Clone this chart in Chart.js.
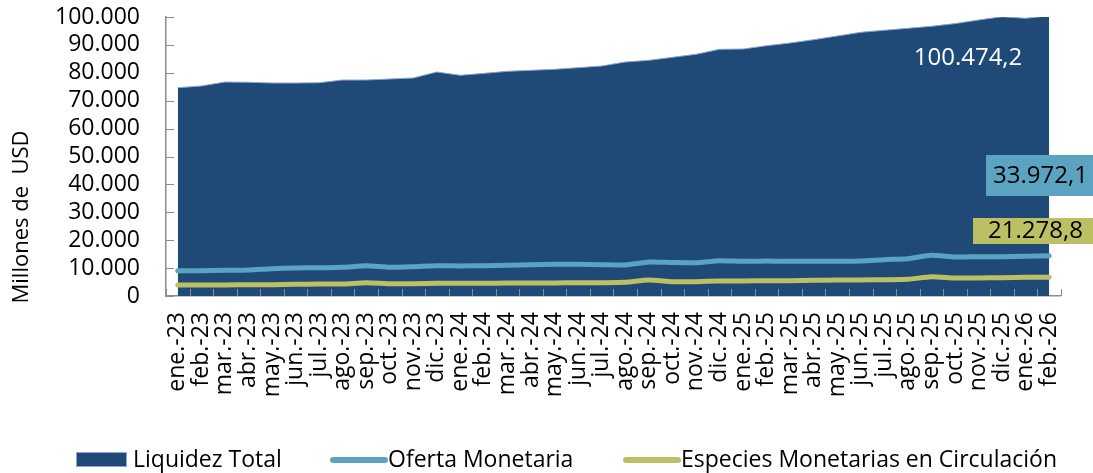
<!DOCTYPE html>
<html>
<head>
<meta charset="utf-8">
<script src="https://cdn.jsdelivr.net/npm/chart.js@4.4.1/dist/chart.umd.min.js"></script>
<style>
  html, body { margin: 0; padding: 0; background: #fff; }
  #wrap { position: relative; width: 1093px; height: 473px; }
</style>
</head>
<body>
<div id="wrap"><canvas id="chart" width="1093" height="473"></canvas></div>
<script>
const months = [
  'ene.-23', 'feb.-23', 'mar.-23', 'abr.-23', 'may.-23', 'jun.-23', 'jul.-23', 'ago.-23', 'sep.-23', 'oct.-23', 'nov.-23', 'dic.-23',
  'ene.-24', 'feb.-24', 'mar.-24', 'abr.-24', 'may.-24', 'jun.-24', 'jul.-24', 'ago.-24', 'sep.-24', 'oct.-24', 'nov.-24', 'dic.-24',
  'ene.-25', 'feb.-25', 'mar.-25', 'abr.-25', 'may.-25', 'jun.-25', 'jul.-25', 'ago.-25', 'sep.-25', 'oct.-25', 'nov.-25', 'dic.-25',
  'ene.-26', 'feb.-26'
];

const liquidezTotal = [
  74660, 75270, 76700, 76600, 76340, 76340, 76450, 77420, 77420, 77780, 78140, 80290,
  79100, 79800, 80530, 80890, 81250, 81840, 82440, 83870, 84470, 85550, 86630, 88420,
  88530, 89720, 90680, 91870, 93190, 94520, 95230, 95950, 96670, 97630, 98920, 100110,
  99530, 100474.2
];

const ofertaMonetaria = [
  9080, 9080, 9200, 9320, 9800, 10040, 10150, 10270, 10870, 10270, 10510, 10870,
  10750, 10870, 10990, 11230, 11350, 11350, 11230, 11110, 12190, 12000, 11910, 12670,
  12430, 12550, 12430, 12430, 12430, 12550, 13030, 13380, 14570, 14000, 14100, 14100,
  14220, 14460
];

const especiesMonetarias = [
  3940, 3940, 3940, 4060, 4060, 4180, 4300, 4300, 4780, 4420, 4420, 4540,
  4540, 4540, 4660, 4660, 4660, 4780, 4780, 4900, 5730, 5140, 5140, 5380,
  5380, 5500, 5500, 5610, 5730, 5730, 5850, 5970, 6930, 6450, 6450, 6570,
  6690, 6690
];

const yTicks = [0, 10000, 20000, 30000, 40000, 50000, 60000, 70000, 80000, 90000, 100000];
const endLabels = ['100.474,2', '33.972,1', '21.278,8'];
const seriesNames = ['Liquidez Total', 'Oferta Monetaria', 'Especies Monetarias en Circulación'];

const COL_AREA = '#1F4A78';
const COL_AREA_EDGE = '#8EA6D2';
const COL_OFERTA = '#5BA3C1';
const COL_ESPECIES = '#BDBF63';
const COL_AXIS = '#8C8C8C';
const FONT = '"Open Sans", "Noto Sans", sans-serif';

function fmt(v) {
  return String(v).replace(/\B(?=(\d{3})+(?!\d))/g, '.');
}

// inner tick marks like the spreadsheet original
const innerTicks = {
  id: 'innerTicks',
  afterDatasetsDraw(chart) {
    const { ctx, scales: { x, y } } = chart;
    ctx.save();
    ctx.strokeStyle = COL_AXIS;
    ctx.lineWidth = 1;
    const n = months.length;
    const step = x.getPixelForValue(1) - x.getPixelForValue(0);
    for (let i = 0; i <= n; i++) {
      const px = Math.round(x.getPixelForValue(0) - step / 2 + i * step) + 0.5;
      ctx.beginPath();
      ctx.moveTo(px, y.bottom);
      ctx.lineTo(px, y.bottom - 7);
      ctx.stroke();
    }
    yTicks.forEach(v => {
      const py = Math.round(y.getPixelForValue(v)) + 0.5;
      ctx.beginPath();
      ctx.moveTo(x.left, py);
      ctx.lineTo(x.left + 8, py);
      ctx.stroke();
    });
    ctx.restore();
  }
};

const annotations = {
  id: 'annotations',
  afterDraw(chart) {
    const { ctx } = chart;
    ctx.save();
    // y axis title
    ctx.translate(22, 217);
    ctx.rotate(-Math.PI / 2);
    ctx.font = '22px ' + FONT;
    ctx.fillStyle = '#000';
    ctx.textAlign = 'center';
    ctx.textBaseline = 'middle';
    ctx.fillText('Millones de  USD', 0, 0);
    ctx.restore();

    ctx.save();
    ctx.font = '24px ' + FONT;
    ctx.textBaseline = 'middle';
    ctx.textAlign = 'center';
    ctx.fillStyle = '#fff';
    ctx.fillText(endLabels[0], 968, 58);

    ctx.fillStyle = COL_OFERTA;
    ctx.fillRect(986, 155, 107, 41);
    ctx.fillStyle = '#000';
    ctx.textAlign = 'left';
    ctx.fillText(endLabels[1], 993, 176);

    ctx.fillStyle = COL_ESPECIES;
    ctx.fillRect(973, 218, 120, 26);
    ctx.fillStyle = '#000';
    ctx.fillText(endLabels[2], 988, 231);
    ctx.restore();

    // legend
    ctx.save();
    const ly = 460;
    ctx.font = '23px ' + FONT;
    ctx.textBaseline = 'middle';
    ctx.textAlign = 'left';
    ctx.fillStyle = COL_AREA;
    ctx.fillRect(76, 452, 51, 15);
    ctx.strokeStyle = COL_AREA_EDGE;
    ctx.lineWidth = 1;
    ctx.strokeRect(76.5, 452.5, 50, 14);
    ctx.fillStyle = '#000';
    ctx.fillText(seriesNames[0], 133, ly);

    ctx.lineCap = 'round';
    ctx.lineWidth = 6;
    ctx.strokeStyle = COL_OFERTA;
    ctx.beginPath(); ctx.moveTo(333, ly); ctx.lineTo(385, ly); ctx.stroke();
    ctx.fillText(seriesNames[1], 388, ly);

    ctx.strokeStyle = COL_ESPECIES;
    ctx.beginPath(); ctx.moveTo(626, ly); ctx.lineTo(678, ly); ctx.stroke();
    ctx.fillText(seriesNames[2], 681, ly);
    ctx.restore();
  }
};

new Chart(document.getElementById('chart').getContext('2d'), {
  type: 'line',
  data: {
    labels: months,
    datasets: [
      {
        label: seriesNames[0],
        data: liquidezTotal,
        fill: 'origin',
        backgroundColor: COL_AREA,
        borderColor: COL_AREA_EDGE,
        borderWidth: 1,
        pointRadius: 0,
        tension: 0,
        order: 3
      },
      {
        label: seriesNames[1],
        data: ofertaMonetaria,
        fill: false,
        borderColor: COL_OFERTA,
        borderWidth: 5,
        borderCapStyle: 'round',
        borderJoinStyle: 'round',
        pointRadius: 0,
        tension: 0.2,
        order: 2
      },
      {
        label: seriesNames[2],
        data: especiesMonetarias,
        fill: false,
        borderColor: COL_ESPECIES,
        borderWidth: 5,
        borderCapStyle: 'round',
        borderJoinStyle: 'round',
        pointRadius: 0,
        tension: 0.2,
        order: 1
      }
    ]
  },
  options: {
    responsive: false,
    animation: false,
    layout: { padding: { top: 0, right: 16, left: 0, bottom: 0 } },
    plugins: {
      legend: { display: false },
      tooltip: { enabled: false }
    },
    scales: {
      x: {
        offset: true,
        grid: { display: false, drawTicks: false },
        border: { display: true, color: COL_AXIS, width: 1.5 },
        ticks: {
          autoSkip: false,
          minRotation: 90,
          maxRotation: 90,
          padding: 16,
          color: '#000',
          font: { family: FONT, size: 23 }
        },
        afterFit(scale) { scale.height = 177; }
      },
      y: {
        min: 0,
        max: 100000,
        afterBuildTicks(scale) { scale.ticks = yTicks.map(v => ({ value: v })); },
        grid: { display: false, drawTicks: false },
        border: { display: true, color: COL_AXIS, width: 1.5 },
        ticks: {
          autoSkip: false,
          padding: 26,
          color: '#000',
          font: { family: FONT, size: 23 },
          callback: v => fmt(v)
        },
        afterFit(scale) {
          scale.width = 166;
          scale.paddingTop = 17;
          scale.paddingBottom = 0;
        }
      }
    }
  },
  plugins: [innerTicks, annotations]
});
</script>
</body>
</html>
